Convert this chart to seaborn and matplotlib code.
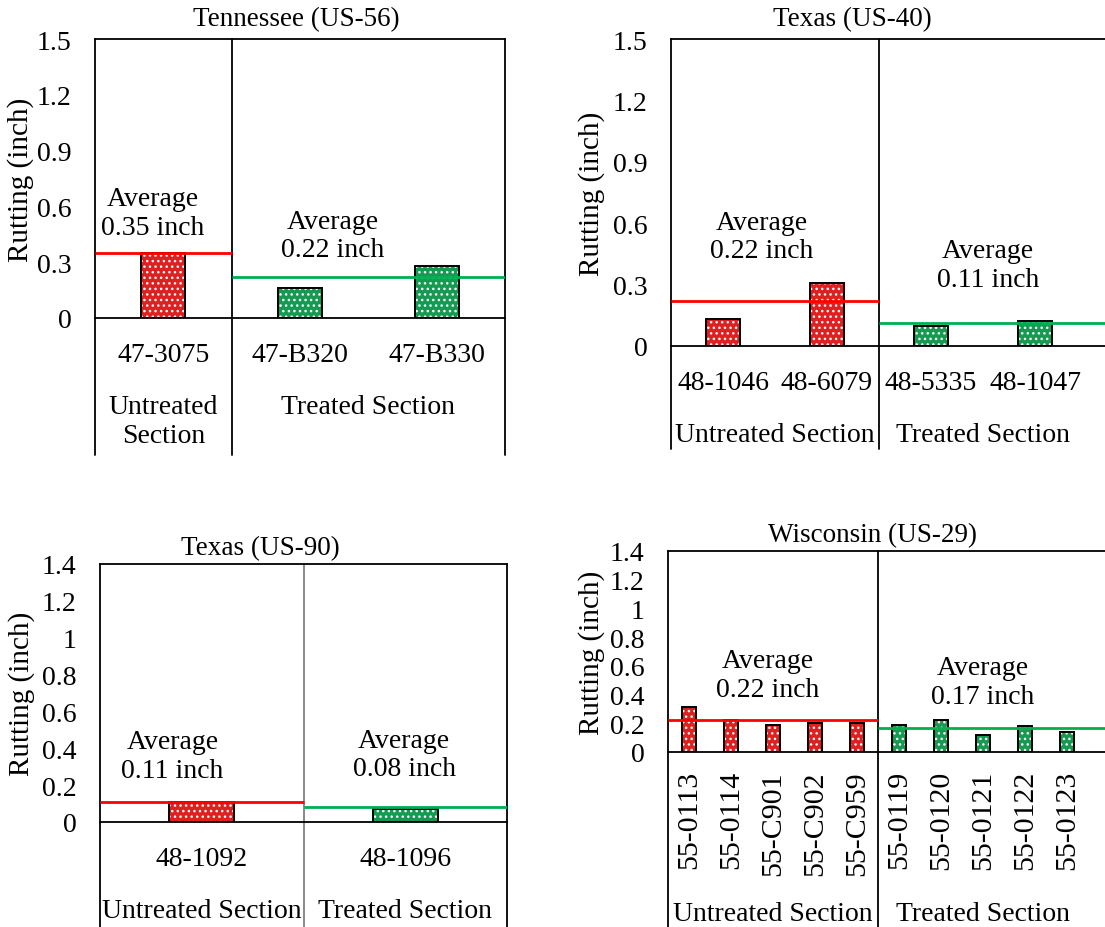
import pandas as pd
import numpy as np
import matplotlib.pyplot as plt
import seaborn as sns

# ==========================================
# DATA
# ==========================================
tn_sections = ["47-3075", "47-B320", "47-B330"]
tn_rutting = [0.35, 0.16, 0.28]
tn_status = ["Untreated", "Treated", "Treated"]
tn_average = [0.35, 0.22]

tx40_sections = ["48-1046", "48-6079", "48-5335", "48-1047"]
tx40_rutting = [0.13, 0.31, 0.10, 0.12]
tx40_status = ["Untreated", "Untreated", "Treated", "Treated"]
tx40_average = [0.22, 0.11]

tx90_sections = ["48-1092", "48-1096"]
tx90_rutting = [0.11, 0.07]
tx90_status = ["Untreated", "Treated"]
tx90_average = [0.11, 0.08]

wi_sections = ["55-0113", "55-0114", "55-C901", "55-C902", "55-C959",
               "55-0119", "55-0120", "55-0121", "55-0122", "55-0123"]
wi_rutting = [0.31, 0.22, 0.19, 0.20, 0.20, 0.19, 0.22, 0.12, 0.18, 0.14]
wi_status = ["Untreated"] * 5 + ["Treated"] * 5
wi_average = [0.22, 0.17]

RED = "#FF0000"
GREEN = "#00B050"
palette = {"Untreated": RED, "Treated": GREEN}

# ==========================================
# STYLE
# ==========================================
sns.set_style("white")
plt.rcParams['font.family'] = ['Liberation Serif', 'DejaVu Serif']
plt.rcParams['hatch.linewidth'] = 1.0
for key in ['text.color', 'axes.labelcolor', 'xtick.color', 'ytick.color']:
    plt.rcParams[key] = 'black'

FS = 20

W, H = 1105, 928
fig = plt.figure(figsize=(W / 100, H / 100), dpi=100)


def add_axes_px(left, top, width, height):
    return fig.add_axes([left / W, 1 - (top + height) / H, width / W, height / H])


def draw_panel(ax, sections, rutting, status, average, title, ymax, ystep,
               xright, below, title_x, title_pad, ylabel_x, text_pos,
               untreated_label="Untreated Section", rotate=False,
               divider_color="black", right_edge=True, tick_pad=17, group_pad=55,
               tick_fs=FS):
    df = pd.DataFrame({"section": sections, "rutting": rutting, "status": status})

    # hatched coloured bars, then black outlines on top
    sns.barplot(data=df, x="section", y="rutting", hue="status", palette=palette,
                dodge=False, width=0.32, hatch="...", edgecolor="white",
                linewidth=0, errorbar=None, legend=False, ax=ax)
    sns.barplot(data=df, x="section", y="rutting", color="black", fill=False,
                width=0.32, linewidth=1.4, errorbar=None, ax=ax)

    n_u = status.count("Untreated")
    n = len(sections)

    ax.set_xlim(-0.5, xright)
    ax.set_ylim(0, ymax)
    yt = np.round(np.arange(0, ymax + ystep / 2, ystep), 2)
    ax.set_yticks(yt)
    ax.set_yticklabels([f"{v:g}" for v in yt])
    ax.tick_params(axis="y", length=0, labelsize=FS, pad=17)
    ax.tick_params(axis="x", length=0, labelsize=tick_fs, pad=tick_pad,
                   labelrotation=90 if rotate else 0)
    ax.set_xlabel("")
    ax.set_ylabel("Rutting (inch)", fontsize=21)
    ax.yaxis.set_label_coords(ylabel_x, 0.5)

    for side in ["left", "right"]:
        ax.spines[side].set_visible(False)
    for side in ["top", "bottom"]:
        ax.spines[side].set_color("black")
        ax.spines[side].set_linewidth(1.3)

    # category separators running below the axis
    ax.axvline(-0.5, ymin=-below, ymax=1, color="black", lw=1.3, clip_on=False)
    ax.axvline(n_u - 0.5, ymin=-below, ymax=1, color=divider_color, lw=1.3, clip_on=False)
    if right_edge:
        ax.axvline(n - 0.5, ymin=-below, ymax=1, color="black", lw=1.3, clip_on=False)

    # average lines
    ax.hlines(average[0], -0.5, n_u - 0.5, color=RED, lw=2)
    ax.hlines(average[1], n_u - 0.5, xright, color=GREEN, lw=2)

    # average text
    for (tx, ty), avg in zip(text_pos, average):
        ax.text(tx, ty, f"Average\n{avg:.2f} inch", ha="center", va="center",
                fontsize=FS, linespacing=1.2)

    # group labels
    groups = [(untreated_label, (n_u - 1) / 2),
              ("Treated Section", n_u + (n - n_u - 1) / 2)]
    for label, cx in groups:
        ax.annotate(label, xy=(cx, 0), xycoords=("data", "axes fraction"),
                    xytext=(0, -group_pad), textcoords="offset points",
                    ha="center", va="top", fontsize=FS, linespacing=1.2)

    ax.annotate(title, xy=(title_x, 1), xycoords="axes fraction",
                xytext=(0, title_pad), textcoords="offset points",
                ha="center", va="center", fontsize=19.5)


# ==========================================
# PANELS
# ==========================================
ax1 = add_axes_px(95, 40, 410, 279)
draw_panel(ax1, tn_sections, tn_rutting, tn_status, tn_average,
           "Tennessee (US-56)", 1.5, 0.3, 2.5, 137 / 279, 0.49, 14.4, -0.148,
           [(-0.08, 0.565), (1.24, 0.444)], untreated_label="Untreated\nSection")

ax2 = add_axes_px(671, 40, 434, 307)
draw_panel(ax2, tx40_sections, tx40_rutting, tx40_status, tx40_average,
           "Texas (US-40)", 1.5, 0.3, -0.5 + 434 / 104, 103 / 307, 0.419, 14.4, -0.152,
           [(0.375, 0.535), (2.55, 0.396)], right_edge=False)

ax3 = add_axes_px(100, 565, 407, 258)
draw_panel(ax3, tx90_sections, tx90_rutting, tx90_status, tx90_average,
           "Texas (US-90)", 1.4, 0.2, 1.5, 105 / 258, 0.393, 12, -0.16,
           [(-0.144, 0.36), (0.994, 0.366)], divider_color="#808080")

ax4 = add_axes_px(668, 552, 437, 201)
draw_panel(ax4, wi_sections, wi_rutting, wi_status, wi_average,
           "Wisconsin (US-29)", 1.4, 0.2, -0.5 + 437 / 42, 175 / 201, 0.469, 12, -0.145,
           [(1.88, 0.536), (6.99, 0.49)], rotate=True, right_edge=False,
           tick_pad=13, group_pad=107, tick_fs=21.5)

plt.savefig("out.png", dpi=100)
